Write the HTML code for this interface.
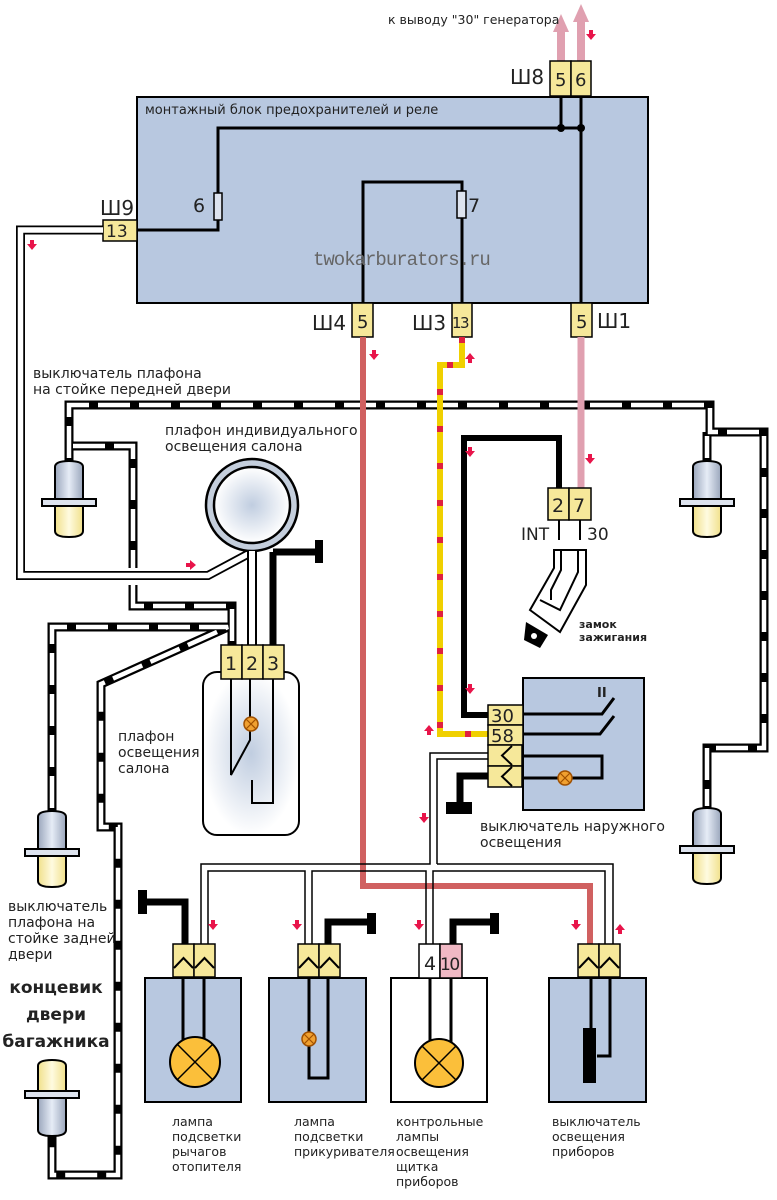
<!DOCTYPE html>
<html><head><meta charset="utf-8"><style>
body{margin:0;background:#fff}
svg{display:block}
text{font-family:"DejaVu Sans","Liberation Sans",sans-serif;fill:#222}
</style></head><body>
<svg width="777" height="1200" viewBox="0 0 777 1200" xmlns="http://www.w3.org/2000/svg">
<defs>
<linearGradient id="cyl" x1="0" x2="1"><stop offset="0" stop-color="#9aa6bc"/><stop offset=".5" stop-color="#e6ecf6"/><stop offset="1" stop-color="#9aa6bc"/></linearGradient>
<linearGradient id="yel" x1="0" x2="1"><stop offset="0" stop-color="#f0e08a"/><stop offset=".5" stop-color="#fffbe0"/><stop offset="1" stop-color="#f0e08a"/></linearGradient>
<radialGradient id="pl"><stop offset="0" stop-color="#c0cde0"/><stop offset="1" stop-color="#fff"/></radialGradient>
<g id="sens">
<path d="M-14,-36 Q-14,-42 0,-42 Q14,-42 14,-36 L14,0 L-14,0Z" fill="url(#cyl)" stroke="#000" stroke-width="2"/>
<path d="M-14,0 L14,0 L14,28 Q14,34 0,34 Q-14,34 -14,28Z" fill="url(#yel)" stroke="#000" stroke-width="2"/>
<rect x="-27" y="-4" width="54" height="7" fill="#dde3ee" stroke="#000" stroke-width="2"/>
</g>
<g id="arrD"><path d="M-2,-8 h4 v4 h3 l-5,6 l-5,-6 h3z" fill="#e8144a"/></g>
<g id="arrU"><path d="M-2,8 h4 v-4 h3 l-5,-6 l-5,6 h3z" fill="#e8144a"/></g>
<g id="arrR"><path d="M-8,-2 v4 h4 v3 l6,-5 l-6,-5 v3z" fill="#e8144a"/></g>
<g id="chev"><rect x="0" y="0" width="21" height="33" fill="#f6e89a" stroke="#000" stroke-width="1.5"/><path d="M1,24 L10.5,14 L20,24" fill="none" stroke="#000" stroke-width="2"/></g>
<g id="chevh"><rect x="0" y="0" width="34" height="21" fill="#f6e89a" stroke="#000" stroke-width="1.5"/><path d="M24,1 L14,10.5 L24,20" fill="none" stroke="#000" stroke-width="2"/></g>
</defs>

<g fill="#e0a0b0">
<rect x="557" y="30" width="8" height="32"/><path d="M553,32 L561,14 L569,32Z"/>
<rect x="577" y="20" width="8" height="42"/><path d="M573,22 L581,4 L589,22Z"/>
</g>
<use href="#arrD" x="591" y="38"/>
<text x="388" y="24" font-size="12.5">к выводу "30" генератора</text>

<rect x="137" y="97" width="511" height="206" fill="#b8c8e0" stroke="#000" stroke-width="2"/>
<text x="145" y="114" font-size="13">монтажный блок предохранителей и реле</text>
<g stroke="#000" stroke-width="3" fill="none">
<path d="M561,96 V128 M581,96 V303 M581,128 H218 V230 H137"/>
<path d="M363,303 V182 H462 V303"/>
</g>
<circle cx="561" cy="128" r="4"/><circle cx="581" cy="128" r="4"/>
<rect x="214" y="193" width="8" height="27" fill="#dde3ee" stroke="#000" stroke-width="1.5"/>
<rect x="457" y="191" width="9" height="27" fill="#dde3ee" stroke="#000" stroke-width="1.5"/>
<text x="193" y="212" font-size="19">6</text>
<text x="468" y="212" font-size="19">7</text>
<text x="313" y="265" font-size="19" style="fill:#666;font-family:'Liberation Mono',monospace" letter-spacing="-1">twokarburators.ru</text>

<g stroke="#000" stroke-width="1.5" fill="#f6e89a">
<rect x="550" y="61" width="21" height="35"/><rect x="571" y="61" width="20" height="35"/>
<rect x="103" y="220" width="34" height="21"/>
<rect x="352" y="303" width="21" height="34"/><rect x="452" y="303" width="20" height="34"/><rect x="571" y="303" width="21" height="34"/>
</g>
<g font-size="18">
<text x="555" y="86">5</text><text x="575" y="86">6</text>
<text x="510" y="84" font-size="20">Ш8</text>
<text x="100" y="215" font-size="20">Ш9</text>
<text x="106" y="237" font-size="17">13</text>
<text x="357" y="328">5</text><text x="452" y="328" font-size="15" letter-spacing="-1.5">13</text><text x="576" y="328">5</text>
<text x="312" y="330" font-size="20">Ш4</text><text x="412" y="330" font-size="20">Ш3</text><text x="597" y="328" font-size="20">Ш1</text>
</g>

<path d="M103,230 H20.5 V575.5 H208 L250,553" fill="none" stroke="#000" stroke-width="9"/>
<path d="M103,230 H20.5 V575.5 H208 L250,553" fill="none" stroke="#fff" stroke-width="5.5"/>
<use href="#arrD" x="32" y="248"/>
<use href="#arrR" x="194" y="565"/>

<g fill="none" stroke="#000" stroke-width="9" stroke-linejoin="miter">
<path d="M69,462 V405 H710 V432 H764 V748 H707 V810"/>
<path d="M707,432 V462"/>
<path d="M69,446 H133 V568"/>
<path d="M133,585 V606 H232 V645"/>
<path d="M52,812 V627 H228 L101,684 V827 H118 V1175 H52 V1136"/>
</g>
<g fill="none" stroke="#fff" stroke-width="4.5" stroke-dasharray="32 9">
<path d="M69,458 V405 H710 V432 H764 V748 H707 V806"/>
<path d="M707,436 V458"/>
<path d="M73,446 H133 V568"/>
<path d="M133,585 V606 H232 V645"/>
<path d="M52,808 V627 H228 L101,684 V827 H118 V1175 H52 V1140"/>
</g>

<use href="#sens" x="69" y="503"/>
<use href="#sens" x="707" y="503"/>
<use href="#sens" x="52" y="853"/>
<use href="#sens" x="707" y="850"/>
<g transform="translate(52,1094) scale(1,-1)"><use href="#sens"/></g>

<circle cx="252" cy="505" r="46" fill="#c4cedc" stroke="#000" stroke-width="2.5"/>
<circle cx="252" cy="505" r="38" fill="url(#pl)" stroke="#000" stroke-width="2.5"/>
<path d="M252,551 V645" stroke="#000" stroke-width="10"/>
<path d="M252,551 V645" stroke="#fff" stroke-width="6"/>
<path d="M273,552 V645 M273,552 H320" stroke="#000" stroke-width="7" fill="none"/>
<rect x="315" y="540" width="8" height="23" fill="#000"/>
<text x="165" y="435" font-size="14">плафон индивидуального</text>
<text x="165" y="451" font-size="14">освещения салона</text>

<rect x="203" y="672" width="96" height="163" rx="14" fill="url(#pl)" stroke="#000" stroke-width="2"/>
<g stroke="#000" stroke-width="1.5" fill="#f6e89a">
<rect x="221" y="645" width="21" height="34"/><rect x="242" y="645" width="21" height="34"/><rect x="263" y="645" width="21" height="34"/>
</g>
<text x="225" y="670" font-size="19">1</text><text x="246" y="670" font-size="19">2</text><text x="267" y="670" font-size="19">3</text>
<path d="M231,679 V775 L250,740 V679 M273,679 V803 H252 V780" stroke="#000" stroke-width="2" fill="none"/>
<circle cx="251" cy="724" r="7" fill="#f0a030" stroke="#a05000" stroke-width="1.5"/>
<path d="M246,719 L256,729 M256,719 L246,729" stroke="#a05000" stroke-width="1.2"/>
<g font-size="14">
<text x="118" y="741">плафон</text>
<text x="118" y="757">освещения</text>
<text x="118" y="773">салона</text>
<text x="33" y="378">выключатель плафона</text>
<text x="33" y="394">на стойке передней двери</text>
<text x="8" y="911">выключатель</text>
<text x="8" y="927">плафона на</text>
<text x="8" y="943">стойке задней</text>
<text x="8" y="959">двери</text>
</g>
<g font-size="17" font-weight="bold" text-anchor="middle">
<text x="56" y="993">концевик</text><text x="56" y="1020">двери</text><text x="56" y="1047">багажника</text></g>

<path d="M363,337 V886 H590 V944" stroke="#d06060" stroke-width="6" fill="none"/>
<use href="#arrD" x="374" y="358"/>
<path d="M581,337 V488" stroke="#e0a0b0" stroke-width="7"/>
<use href="#arrD" x="590" y="462"/>
<path d="M559,488 V438 H464 V715 H488" stroke="#000" stroke-width="6" fill="none"/>
<use href="#arrD" x="470" y="455"/>
<use href="#arrD" x="470" y="692"/>
<path d="M462,337 V365 H440 V734 H488" stroke="#f0d000" stroke-width="6" fill="none"/>
<path d="M462,337 V365 H440 V734 H488" stroke="#e02040" stroke-width="6" fill="none" stroke-dasharray="6 31"/>
<use href="#arrU" x="470" y="355"/>
<use href="#arrU" x="429" y="727"/>

<g stroke="#000" stroke-width="1.5" fill="#f6e89a"><rect x="548" y="488" width="21" height="32"/><rect x="569" y="488" width="22" height="32"/></g>
<text x="552" y="512" font-size="19">2</text><text x="573" y="512" font-size="19">7</text>
<text x="521" y="540" font-size="17">INT</text><text x="587" y="540" font-size="17">30</text>
<path d="M559,520 V540 M580,520 V540" stroke="#000" stroke-width="2"/>
<g fill="none" stroke="#000" stroke-width="2">
<path d="M554,550 V568 L530,610 L560,632 L586,585 V550Z" fill="#fff"/>
<path d="M561,550 V570 L551,590 V600 M578,550 V572 L560,610 L540,600"/>
</g>
<path d="M526,622 L548,635 L540,648 L524,640Z" fill="#000"/>
<circle cx="534" cy="636" r="3" fill="#fff"/>
<text x="579" y="628" font-size="11" font-weight="bold">замок</text>
<text x="579" y="641" font-size="11" font-weight="bold">зажигания</text>

<rect x="523" y="678" width="121" height="132" fill="#b8c8e0" stroke="#000" stroke-width="2"/>
<text x="597" y="697" font-size="13" font-weight="bold">II</text>
<g stroke="#000" stroke-width="1.5" fill="#f6e89a"><rect x="488" y="705" width="35" height="20"/><rect x="488" y="725" width="35" height="20"/></g>
<text x="491" y="722" font-size="18">30</text><text x="491" y="742" font-size="18">58</text>
<use href="#chevh" x="488" y="745"/><use href="#chevh" x="488" y="766"/>
<path d="M523,714 H602 L614,698 M523,734 H600 L614,716 M523,756 H602 V778 H523" stroke="#000" stroke-width="3" fill="none"/>
<circle cx="565" cy="778" r="7" fill="#f0a030" stroke="#a05000" stroke-width="1.5"/>
<path d="M560,773 L570,783 M570,773 L560,783" stroke="#a05000" stroke-width="1.2"/>
<path d="M488,776 H460 V805" stroke="#000" stroke-width="7" fill="none"/>
<rect x="446" y="802" width="26" height="12" fill="#000"/>
<text x="480" y="831" font-size="14">выключатель наружного</text>
<text x="480" y="847" font-size="14">освещения</text>

<g fill="none" stroke="#000" stroke-width="1.5">
<path d="M488,753 H430 V864 H201 V944 M437,864 H613 V944"/>
<path d="M488,759 H437 V864 M208,944 V871 H305 V944 M312,944 V871 H426 V944 M433,944 V871 H605 V944"/>
</g>
<use href="#arrD" x="424" y="821"/>

<rect x="145" y="978" width="96" height="124" fill="#b8c8e0" stroke="#000" stroke-width="2"/>
<rect x="269" y="978" width="97" height="124" fill="#b8c8e0" stroke="#000" stroke-width="2"/>
<rect x="391" y="978" width="96" height="124" fill="#fff" stroke="#000" stroke-width="2"/>
<rect x="549" y="978" width="97" height="124" fill="#b8c8e0" stroke="#000" stroke-width="2"/>
<use href="#chev" x="173" y="944"/><use href="#chev" x="194" y="944"/>
<use href="#chev" x="298" y="944"/><use href="#chev" x="319" y="944"/>
<use href="#chev" x="578" y="944"/><use href="#chev" x="599" y="944"/>
<rect x="419" y="944" width="21" height="34" fill="#fff" stroke="#000" stroke-width="1.5"/>
<rect x="440" y="944" width="22" height="34" fill="#f0b8c4" stroke="#000" stroke-width="1.5"/>
<text x="424" y="970" font-size="19">4</text><text x="440" y="970" font-size="17" letter-spacing="-1.5">10</text>
<path d="M185,944 V902 H142 M328,944 V922 H372 M453,944 V922 H495" stroke="#000" stroke-width="7" fill="none"/>
<rect x="138" y="890" width="9" height="24" fill="#000"/>
<rect x="367" y="913" width="9" height="21" fill="#000"/>
<rect x="490" y="913" width="9" height="21" fill="#000"/>
<path d="M183,978 V1045 M204,978 V1045 M309,978 V1078 H328 V978 M430,978 V1045 M451,978 V1045 M591,978 V1030 M610,978 V1056 H597" stroke="#000" stroke-width="3" fill="none"/>
<circle cx="195" cy="1062" r="25" fill="#fbbf3a" stroke="#000" stroke-width="2"/>
<path d="M177,1044 L213,1080 M213,1044 L177,1080" stroke="#000" stroke-width="1.5"/>
<circle cx="309" cy="1039" r="7" fill="#f0a030" stroke="#a05000" stroke-width="1.5"/>
<path d="M304,1034 L314,1044 M314,1034 L304,1044" stroke="#a05000" stroke-width="1.2"/>
<circle cx="439" cy="1063" r="24" fill="#fbbf3a" stroke="#000" stroke-width="2"/>
<path d="M422,1046 L456,1080 M456,1046 L422,1080" stroke="#000" stroke-width="1.5"/>
<rect x="583" y="1028" width="13" height="55" fill="#000"/>
<use href="#arrD" x="213" y="928"/>
<use href="#arrD" x="297" y="928"/>
<use href="#arrD" x="419" y="928"/>
<use href="#arrD" x="576" y="928"/>
<use href="#arrU" x="620" y="926"/>
<g font-size="12.5">
<text x="172" y="1126">лампа</text><text x="172" y="1141">подсветки</text><text x="172" y="1156">рычагов</text><text x="172" y="1171">отопителя</text>
<text x="294" y="1126">лампа</text><text x="294" y="1141">подсветки</text><text x="294" y="1156">прикуривателя</text>
<text x="396" y="1126">контрольные</text><text x="396" y="1141">лампы</text><text x="396" y="1156">освещения</text><text x="396" y="1171">щитка</text><text x="396" y="1186">приборов</text>
<text x="552" y="1126">выключатель</text><text x="552" y="1141">освещения</text><text x="552" y="1156">приборов</text>
</g>
</svg>
</body></html>
